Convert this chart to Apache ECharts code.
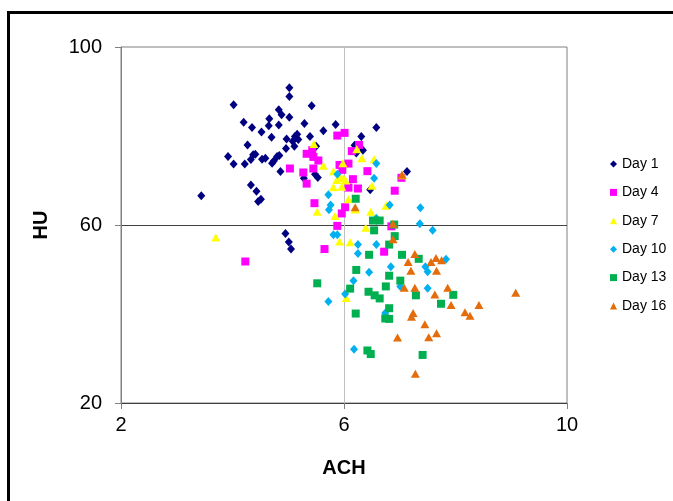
<!DOCTYPE html>
<html>
<head>
<meta charset="utf-8">
<script src="https://cdn.jsdelivr.net/npm/echarts@6/dist/echarts.min.js"></script>
<style>
html,body{margin:0;padding:0;background:#fff;}
#chart{width:673px;height:501px;}
</style>
</head>
<body>
<div id="chart"></div>
<script>
const seriesNames = ['Day 1', 'Day 4', 'Day 7', 'Day 10', 'Day 13', 'Day 16'];
const xTicks = [2, 6, 10];
const yTicks = [20, 60, 100];

const day1 = [
  [5.02,90.85],[5.02,88.9],[4.02,87.0],[5.42,86.8],[4.83,85.9],[4.88,84.8],[5.02,84.2],
  [4.20,83.1],[4.66,83.9],[4.35,81.9],[4.65,82.3],[4.83,82.5],[5.29,82.8],[5.85,82.6],
  [6.58,81.9],[5.63,81.2],[4.52,80.9],[4.70,79.7],[5.16,80.4],[5.12,79.9],[5.39,79.9],
  [4.97,79.3],[5.08,78.8],[5.18,79.2],[6.31,79.9],[4.27,78.0],[4.96,77.2],[5.11,77.7],
  [5.50,77.7],[6.19,77.9],[6.22,76.2],[6.34,76.8],[3.92,75.4],[4.37,75.8],[4.41,75.9],
  [4.33,74.7],[4.53,74.8],[4.59,75.0],[4.71,73.9],[4.74,74.4],[4.80,75.4],[4.84,75.6],
  [4.02,73.7],[4.22,73.7],[4.86,72.0],[5.28,70.5],[5.48,71.4],[5.53,70.7],[7.13,72.0],
  [6.47,67.9],[4.33,69.0],[4.43,67.6],[4.46,65.3],[4.51,65.8],[3.44,66.6],[4.95,58.1],
  [5.01,56.2],[5.05,54.6]
];
const day4 = [
  [5.88,80.1],[6.01,80.7],[6.27,78.0],[6.14,76.6],[5.33,76.0],[5.43,76.8],[5.45,75.3],
  [5.54,74.5],[5.45,72.7],[5.03,72.7],[5.27,71.8],[5.33,69.3],[5.92,73.5],[6.08,73.8],
  [5.97,72.4],[6.16,70.3],[6.08,68.4],[6.25,68.2],[6.42,72.1],[7.03,70.6],[6.91,67.7],
  [5.47,64.9],[6.02,64.0],[5.96,62.6],[5.88,59.8],[6.85,59.7],[5.65,54.6],[6.72,54.0],
  [4.23,51.8]
];
const day7 = [
  [5.46,78.2],[6.23,77.0],[6.32,75.0],[6.54,74.8],[5.98,73.9],[5.63,73.3],[5.81,72.1],
  [7.05,71.2],[5.92,70.9],[5.99,70.5],[5.87,70.1],[6.03,70.0],[5.96,68.6],[5.81,68.5],
  [6.50,68.8],[6.08,65.8],[6.77,64.5],[6.75,64.3],[6.20,63.5],[5.52,63.0],[6.48,63.0],
  [5.84,62.0],[6.39,59.4],[5.92,56.3],[6.11,56.1],[3.70,57.2],[6.04,43.6]
];
const day10 = [
  [6.58,73.8],[6.54,70.5],[5.88,71.4],[5.72,66.8],[5.76,64.5],[5.73,63.4],[6.82,64.5],
  [7.37,63.9],[7.36,60.3],[7.59,58.8],[6.58,61.5],[5.81,57.8],[5.88,57.8],[6.25,55.6],
  [6.58,55.6],[6.25,53.6],[7.83,52.3],[6.84,50.6],[7.46,50.6],[7.50,49.5],[6.45,49.4],
  [6.17,47.5],[7.01,46.2],[7.50,45.8],[6.02,44.5],[5.72,42.8],[6.74,40.2],[6.18,32.1]
];
const day13 = [
  [6.21,65.9],[6.52,61.0],[6.64,61.0],[6.90,60.1],[6.54,58.8],[6.91,57.5],[6.81,55.6],
  [6.45,53.3],[7.04,53.3],[7.34,52.4],[6.22,49.9],[6.81,48.6],[7.01,47.5],[5.52,46.9],
  [6.11,45.7],[6.75,46.2],[6.44,45.0],[6.55,44.2],[6.64,43.5],[7.29,44.2],[7.96,44.3],
  [7.74,42.3],[6.81,41.3],[6.21,40.1],[6.74,39.0],[6.81,38.9],[6.42,31.8],[6.48,31.0],
  [7.41,30.8]
];
const day16 = [
  [7.04,71.3],[6.20,64.0],[6.88,60.3],[6.88,56.8],[7.27,53.5],[7.15,51.7],[7.56,51.7],
  [7.65,52.6],[7.75,52.1],[7.20,49.7],[7.66,49.7],[7.08,45.9],[7.27,45.9],[7.63,44.4],
  [7.86,45.9],[9.08,44.8],[7.92,42.0],[8.42,42.0],[7.24,40.2],[7.21,39.4],[8.17,40.4],
  [8.26,39.6],[7.45,37.7],[7.66,35.7],[7.52,34.8],[6.96,34.7],[7.28,26.6]
];

const seriesData = [day1, day4, day7, day10, day13, day16];
const colors = ['#000080', '#FF00FF', '#FFFF00', '#00B0F0', '#00B050', '#E46C0A'];
const symbols = ['diamond', 'rect', 'triangle', 'diamond', 'rect', 'triangle'];
const sizes = [[8, 9], 8, [9, 8], [8, 9], 8, [9, 8]];

const chart = echarts.init(document.getElementById('chart'), null, {renderer: 'canvas'});
const FONT = '"Liberation Sans", Arial, sans-serif';

chart.setOption({
  animation: false,
  backgroundColor: '#ffffff',
  graphic: [{
    type: 'rect',
    shape: {x: 8.5, y: 12.5, width: 700, height: 600},
    style: {fill: 'none', stroke: '#000000', lineWidth: 3},
    silent: true
  }],
  grid: {
    left: 121, top: 47, width: 446, height: 356,
    show: true, borderColor: '#808080', borderWidth: 1, backgroundColor: 'transparent'
  },
  legend: {
    orient: 'vertical',
    left: 605, top: 151,
    itemWidth: 7, itemHeight: 7,
    itemGap: 12.4,
    textStyle: {fontFamily: FONT, fontSize: 14, color: '#000', lineHeight: 16},
    data: seriesNames
  },
  xAxis: {
    type: 'value', min: xTicks[0], max: xTicks[xTicks.length - 1], interval: xTicks[1] - xTicks[0],
    name: 'ACH', nameLocation: 'middle', nameGap: 55,
    nameTextStyle: {fontFamily: FONT, fontSize: 20, fontWeight: 'bold', color: '#000'},
    axisLine: {show: true, onZero: false, lineStyle: {color: '#404040', width: 1}},
    axisTick: {show: true, length: 6, lineStyle: {color: '#808080'}},
    axisLabel: {fontFamily: FONT, fontSize: 20, color: '#000', margin: 12},
    splitLine: {show: true, showMinLine: false, showMaxLine: false, lineStyle: {color: '#c0c0c0', width: 1}}
  },
  yAxis: {
    type: 'value', min: yTicks[0], max: yTicks[yTicks.length - 1], interval: yTicks[1] - yTicks[0],
    name: 'HU', nameLocation: 'middle', nameGap: 70,
    nameTextStyle: {fontFamily: FONT, fontSize: 20, fontWeight: 'bold', color: '#000'},
    axisLine: {show: true, onZero: false, lineStyle: {color: '#808080', width: 1}},
    axisTick: {show: true, length: 6, lineStyle: {color: '#808080'}},
    axisLabel: {fontFamily: FONT, fontSize: 20, color: '#000', margin: 19},
    splitLine: {show: true, showMinLine: false, showMaxLine: false, lineStyle: {color: '#404040', width: 1}}
  },
  series: seriesNames.map((n, i) => ({
    name: n,
    type: 'scatter',
    data: seriesData[i],
    symbol: symbols[i],
    symbolSize: sizes[i],
    itemStyle: {color: colors[i], opacity: 1},
    emphasis: {disabled: true}
  }))
});
</script>
</body>
</html>
